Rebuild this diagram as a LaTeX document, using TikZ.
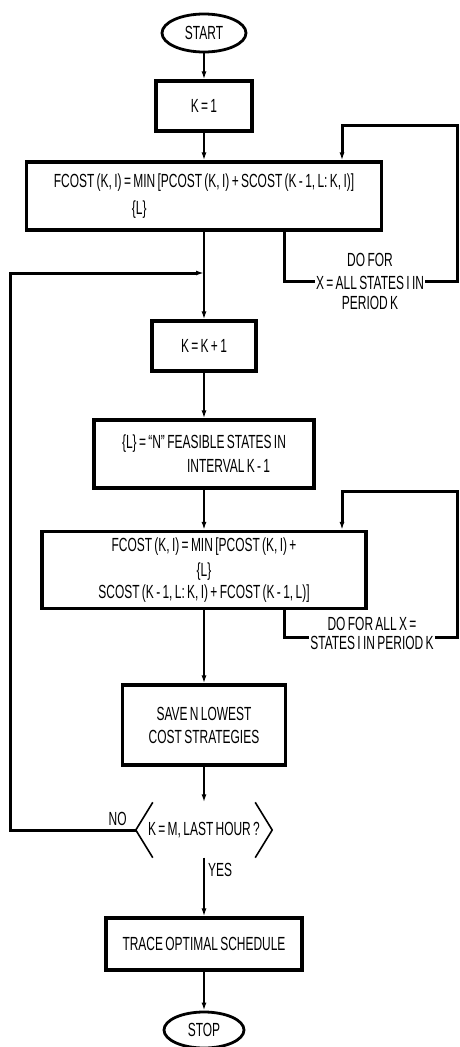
\documentclass[tikz,border=0pt]{standalone}
\usepackage{fontspec}
\setmainfont{Liberation Sans}[FakeStretch=0.63,WordSpace=0.7]
\usetikzlibrary{shapes.geometric,arrows.meta,positioning}

\begin{document}
\begin{tikzpicture}[x=1pt,y=-1pt,
		font=\fontsize{19}{21}\selectfont,
		box/.style={draw,line width=3.2pt,inner sep=0pt,align=center},
		term/.style={draw,ellipse,line width=2.8pt,inner sep=0pt},
		flow/.style={line width=1.6pt,-{Latex[length=8pt,width=5pt]}},
		loopline/.style={line width=3pt},
		feed/.style={loopline,-{Latex[length=8pt,width=5pt]}},
		note/.style={inner sep=1pt,align=center}]
		\useasboundingbox (0,0) rectangle (459,1047);
		\node[term,minimum width=84pt,minimum height=38pt] (start) at (204,33) {START};
		\node[box,minimum width=96pt,minimum height=50pt] (k1) at (204,106) {K = 1};
		\node[box,minimum width=355pt,minimum height=68pt,align=left] (cost1) at (204,196)
			{FCOST (K, I) = MIN [PCOST (K, I) + SCOST (K - 1, L: K, I)]\\[6pt]\hspace*{78pt}\{L\}};
		\node[box,minimum width=104pt,minimum height=50pt] (kk) at (204,346) {K = K + 1};
		\node[box,minimum width=220pt,minimum height=68pt,align=left] (feas) at (204,454)
			{\{L\} = ``N'' FEASIBLE STATES IN\\[3pt]\hspace*{65pt}INTERVAL K - 1};
		\node[box,minimum width=324pt,minimum height=77pt] (cost2) at (204,570)
			{FCOST (K, I) = MIN [PCOST (K, I) +\\[4pt]\{L\}\\[1pt]SCOST (K - 1, L: K, I) + FCOST (K - 1, L)]};
		\node[box,minimum width=163pt,minimum height=80pt] (save) at (204,725) {SAVE N LOWEST\\[2pt]COST STRATEGIES};
		\node[minimum width=136pt,minimum height=55pt,inner sep=0pt] (dec) at (204,830) {K = M, LAST HOUR ?};
		\node[box,minimum width=196pt,minimum height=52pt] (trace) at (204,944) {TRACE OPTIMAL SCHEDULE};
		\node[term,minimum width=80pt,minimum height=36pt] (stop) at (204,1030) {STOP};
		\node[note] (do1) at (370,281) {DO FOR\\[2pt]X = ALL STATES I IN\\[-1pt]PERIOD K};
		\node[note] (do2) at (372,633) {DO FOR ALL X =\\[-2pt]STATES I IN PERIOD K};
		\node[note,above left=3pt and 8pt of dec.west] (no) {NO};
		\node[note,below right=4pt and 3pt of dec.south] (yes) {YES};
		\coordinate (r1) at (457,125);
		\coordinate (r2) at (457,491);
		\coordinate (l1) at (10,273);
		\draw[line width=1.6pt] ([xshift=17pt]dec.north west) -- (dec.west) -- ([xshift=17pt]dec.south west);
		\draw[line width=1.6pt] ([xshift=-17pt]dec.north east) -- (dec.east) -- ([xshift=-17pt]dec.south east);
		\draw[flow] (start) -- (k1);
		\draw[flow] (k1) -- (cost1);
		\draw[flow] (cost1) -- (kk);
		\draw[flow] (kk) -- (feas);
		\draw[flow] (feas) -- (cost2);
		\draw[flow] (cost2) -- (save);
		\draw[flow] (save) -- (dec);
		\draw[flow] (dec) -- (trace);
		\draw[flow] (trace) -- (stop);
		\draw[loopline] ([xshift=80pt]cost1.south) |- (do1.west);
		\draw[feed] (do1.east) -| (r1) -| ([xshift=138pt]cost1.north);
		\draw[loopline] ([xshift=80pt]cost2.south) |- ([yshift=-4pt]do2.west);
		\draw[feed] ([yshift=-4pt]do2.east) -| (r2) -| ([xshift=138pt]cost2.north);
		\draw[feed] (dec.west) -| (l1) -- (l1 -| kk.north);
	\end{tikzpicture}
\end{document}
